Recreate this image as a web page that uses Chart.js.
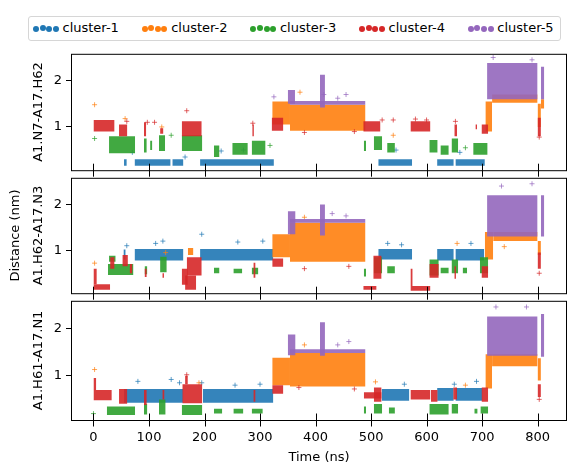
<!DOCTYPE html>
<html>
<head>
<meta charset="utf-8">
<script src="https://cdn.jsdelivr.net/npm/chart.js@4.4.1/dist/chart.umd.min.js"></script>
<style>
    body { margin: 0; background: #fff; font-family: "DejaVu Sans", sans-serif; }
    #wrap { position: relative; width: 588px; height: 475px; overflow: hidden; background: #fff; }
    #wrap canvas { position: absolute; left: 0; }
    .legend-box { position: absolute; left: 28px; top: 16px; width: 533px; height: 25px; box-sizing: border-box;
        border: 1px solid #d6d6d6; border-radius: 3px; }
    .legend-item { position: absolute; top: 0; }
    .dot { position: absolute; width: 6px; height: 6px; border-radius: 50%; }
    .legend-text { position: absolute; top: 21px; font-size: 13px; line-height: 13px; color: #000; white-space: nowrap; }
</style>
</head>
<body>
<div id="wrap">
    <div class="legend-box"></div>
    <div id="legend"></div>
    <canvas id="p1" width="588" height="140" style="top:42px"></canvas>
    <canvas id="p2" width="588" height="139" style="top:166px"></canvas>
    <canvas id="p3" width="588" height="186" style="top:289px"></canvas>
</div>
<script>
const clusterNames = ['cluster-1', 'cluster-2', 'cluster-3', 'cluster-4', 'cluster-5'];
const clusterColors = ['31,119,180', '255,127,14', '44,160,44', '214,39,40', '148,103,189'];
const xTicks = [0, 100, 200, 300, 400, 500, 600, 700, 800];
const yTicks = [1, 2];
const panelLabels = [
    ['', 'A1.N7-A17.H62'],
    ['Distance (nm)', 'A1.H62-A17.N3'],
    ['', 'A1.H61-A17.N1']
];

// dense stretches: [cluster, start ns, end ns, low nm, high nm]
const bandsN7H62 = [
    [1, 55, 60, 0.16, 0.3], [1, 74, 139, 0.16, 0.3], [1, 142, 162, 0.16, 0.3],
    [1, 192, 325, 0.16, 0.3], [1, 513, 574, 0.16, 0.3], [1, 619, 649, 0.16, 0.3],
    [1, 652, 705, 0.16, 0.3],
    [2, 322, 354, 1.05, 1.55], [2, 354, 490, 0.92, 1.48], [2, 706, 718, 0.9, 1.55],
    [2, 718, 800, 1.52, 1.7], [2, 800, 806, 1.0, 1.5], [2, 806, 812, 1.4, 1.6],
    [3, 28, 75, 0.43, 0.8], [3, 91, 96, 0.45, 0.75], [3, 102, 106, 0.5, 0.7],
    [3, 118, 129, 0.48, 0.82], [3, 159, 196, 0.48, 0.82], [3, 217, 227, 0.35, 0.6],
    [3, 250, 278, 0.4, 0.65], [3, 285, 310, 0.4, 0.7], [3, 487, 491, 0.48, 0.7],
    [3, 505, 520, 0.5, 0.8], [3, 529, 543, 0.45, 0.65], [3, 605, 620, 0.45, 0.72],
    [3, 625, 640, 0.4, 0.6], [3, 645, 657, 0.45, 0.75], [3, 684, 710, 0.4, 0.65],
    [4, 0, 38, 0.9, 1.15], [4, 46, 61, 0.8, 1.05], [4, 91, 95, 0.8, 1.1],
    [4, 120, 126, 0.85, 0.97], [4, 159, 195, 0.8, 1.12], [4, 286, 289, 0.8, 1.05],
    [4, 321, 342, 0.92, 1.2], [4, 486, 517, 0.9, 1.12], [4, 571, 607, 0.9, 1.12],
    [4, 650, 655, 0.8, 1.05], [4, 688, 691, 0.95, 1.05], [4, 699, 711, 0.85, 1.05],
    [4, 800, 806, 0.8, 1.2],
    [5, 350, 363, 1.5, 1.8], [5, 408, 417, 1.42, 2.13], [5, 354, 490, 1.48, 1.56],
    [5, 709, 800, 1.6, 2.38], [5, 806, 812, 1.6, 2.3]
];
const bandsH62N3 = [
    [1, 54, 58, 0.8, 1.02], [1, 74, 162, 0.78, 1.03], [1, 192, 324, 0.78, 1.03],
    [1, 513, 574, 0.8, 1.03], [1, 619, 649, 0.78, 1.03], [1, 652, 704, 0.78, 1.03],
    [2, 170, 180, 0.9, 1.05], [2, 322, 354, 0.85, 1.35], [2, 354, 490, 0.75, 1.6],
    [2, 705, 720, 0.8, 1.4], [2, 720, 800, 1.2, 1.4], [2, 800, 806, 0.9, 1.2],
    [3, 26, 72, 0.46, 0.7], [3, 28, 40, 0.75, 0.88], [3, 92, 97, 0.48, 0.65],
    [3, 120, 132, 0.52, 0.86], [3, 217, 227, 0.5, 0.62], [3, 252, 268, 0.5, 0.6],
    [3, 285, 297, 0.48, 0.62], [3, 487, 491, 0.43, 0.6], [3, 505, 520, 0.5, 0.85],
    [3, 529, 543, 0.5, 0.65], [3, 605, 622, 0.45, 0.8], [3, 625, 640, 0.5, 0.62],
    [3, 645, 657, 0.5, 0.8], [3, 665, 673, 0.5, 0.62], [3, 696, 711, 0.5, 0.85],
    [4, 0, 30, 0.14, 0.26], [4, 0, 6, 0.26, 0.6], [4, 30, 38, 0.6, 0.85],
    [4, 52, 62, 0.65, 0.9], [4, 65, 70, 0.5, 0.7], [4, 92, 96, 0.42, 0.6],
    [4, 124, 127, 0.4, 0.5], [4, 159, 170, 0.25, 0.6], [4, 165, 185, 0.14, 0.45],
    [4, 168, 195, 0.45, 0.85], [4, 288, 292, 0.4, 0.73], [4, 322, 342, 0.64, 0.82],
    [4, 486, 510, 0.14, 0.22], [4, 504, 519, 0.38, 0.88], [4, 571, 607, 0.12, 0.22],
    [4, 571, 575, 0.22, 0.6], [4, 605, 622, 0.4, 0.7], [4, 650, 653, 0.38, 0.65],
    [4, 699, 711, 0.4, 0.65], [4, 800, 806, 0.6, 0.95],
    [5, 350, 364, 1.35, 1.85], [5, 408, 417, 1.32, 2.0], [5, 354, 490, 1.6, 1.68],
    [5, 709, 800, 1.3, 2.2], [5, 806, 812, 1.3, 2.2]
];
const bandsH61N1 = [
    [1, 55, 162, 0.43, 0.72], [1, 197, 324, 0.43, 0.72], [1, 519, 569, 0.47, 0.72],
    [1, 619, 649, 0.47, 0.74], [1, 652, 701, 0.47, 0.74],
    [2, 322, 354, 0.8, 1.38], [2, 354, 490, 0.77, 1.48], [2, 706, 718, 0.73, 1.45],
    [2, 718, 800, 1.2, 1.45], [2, 800, 806, 0.9, 1.37],
    [3, 24, 75, 0.17, 0.35], [3, 91, 97, 0.18, 0.41], [3, 118, 130, 0.18, 0.5],
    [3, 159, 196, 0.17, 0.38], [3, 217, 232, 0.2, 0.3], [3, 252, 270, 0.2, 0.3],
    [3, 285, 305, 0.2, 0.3], [3, 487, 491, 0.2, 0.35], [3, 505, 520, 0.2, 0.4],
    [3, 532, 543, 0.2, 0.33], [3, 605, 640, 0.18, 0.4], [3, 645, 657, 0.2, 0.4],
    [3, 686, 692, 0.2, 0.3], [3, 697, 711, 0.2, 0.35],
    [4, 0, 33, 0.48, 0.7], [4, 0, 5, 0.7, 0.95], [4, 46, 61, 0.41, 0.72],
    [4, 91, 96, 0.38, 0.7], [4, 124, 128, 0.5, 0.7], [4, 160, 196, 0.42, 0.82],
    [4, 165, 170, 0.82, 1.0], [4, 288, 292, 0.45, 0.7], [4, 322, 342, 0.62, 0.8],
    [4, 487, 519, 0.52, 0.65], [4, 505, 519, 0.45, 0.75], [4, 571, 607, 0.5, 0.7],
    [4, 608, 620, 0.45, 0.7], [4, 648, 655, 0.5, 0.75], [4, 699, 711, 0.45, 0.75],
    [4, 800, 806, 0.55, 0.82],
    [5, 350, 364, 1.43, 1.87], [5, 408, 417, 1.42, 2.13], [5, 354, 490, 1.48, 1.56],
    [5, 709, 800, 1.42, 2.25], [5, 806, 812, 1.4, 2.3]
];

// scattered single frames: [cluster, ns, nm]
const strayN7H62 = [
    [2, 2, 1.48], [3, 2, 0.75], [4, 60, 1.12], [2, 57, 1.18], [1, 70, 0.45], [4, 97, 1.1],
    [4, 110, 1.1], [2, 123, 1.0], [3, 140, 0.82], [1, 165, 0.35], [4, 168, 1.35], [1, 230, 0.48],
    [1, 270, 0.5], [4, 287, 1.08], [3, 318, 0.6], [5, 325, 1.65], [2, 372, 1.75], [5, 415, 1.7],
    [5, 440, 1.62], [5, 455, 1.7], [4, 380, 0.88], [4, 470, 0.9], [4, 520, 1.15], [4, 540, 1.15],
    [2, 540, 0.82], [1, 545, 0.5], [4, 580, 1.17], [4, 600, 1.15], [4, 652, 1.12], [1, 660, 0.45],
    [3, 670, 0.55], [5, 720, 2.5], [5, 790, 2.45], [4, 803, 0.78]
];
const strayH62N3 = [
    [2, 2, 0.72], [1, 60, 1.1], [1, 125, 1.2], [1, 112, 1.15], [2, 130, 0.95], [1, 195, 1.35],
    [1, 260, 1.18], [1, 305, 1.2], [2, 380, 1.72], [5, 430, 1.8], [5, 455, 1.75], [4, 380, 0.6],
    [4, 460, 0.65], [1, 530, 1.15], [1, 555, 1.12], [2, 655, 1.15], [1, 680, 1.15], [5, 735, 2.4],
    [5, 790, 2.45], [2, 740, 1.08], [4, 803, 0.5]
];
const strayH61N1 = [
    [2, 2, 1.13], [3, 0, 0.2], [1, 80, 0.88], [1, 140, 0.92], [1, 155, 0.85], [1, 195, 0.85],
    [4, 168, 1.02], [2, 190, 0.85], [1, 255, 0.8], [1, 300, 0.82], [2, 380, 1.65], [5, 440, 1.65],
    [5, 460, 1.72], [4, 370, 0.75], [4, 470, 0.72], [2, 508, 0.87], [1, 560, 0.82], [1, 650, 0.82],
    [2, 670, 0.8], [1, 690, 0.88], [5, 725, 2.45], [5, 780, 2.45], [4, 803, 0.5]
];

const FONT = '"DejaVu Sans", sans-serif';

// legend with four dots per entry, like matplotlib's scatter legend
const legend = document.getElementById('legend');
clusterNames.forEach((name, i) => {
    const left = 33 + i * 108.7;
    const item = document.createElement('div');
    item.className = 'legend-item';
    item.style.left = left + 'px';
    [26, 24.7, 26, 26].forEach((top, k) => {
        const d = document.createElement('span');
        d.className = 'dot';
        d.style.left = (k * 6.6) + 'px';
        d.style.top = top + 'px';
        d.style.background = `rgb(${clusterColors[i]})`;
        item.appendChild(d);
    });
    const t = document.createElement('span');
    t.className = 'legend-text';
    t.style.left = '29.5px';
    t.textContent = name;
    item.appendChild(t);
    legend.appendChild(item);
});

// panel frame + in/out x ticks at the bottom edge
const framePlugin = {
    id: 'frame',
    afterDraw(chart) {
        const { ctx, chartArea: a, scales: { x } } = chart;
        ctx.save();
        ctx.strokeStyle = '#000';
        ctx.lineWidth = 1;
        ctx.strokeRect(a.left + 0.5, a.top + 0.5, a.right - a.left - 1, a.bottom - a.top);
        ctx.beginPath();
        xTicks.forEach(v => {
            const px = Math.round(x.getPixelForValue(v)) + 0.5;
            ctx.moveTo(px, a.bottom - 6.5);
            ctx.lineTo(px, a.bottom + 6.5);
        });
        ctx.stroke();
        ctx.restore();
    }
};

function buildDatasets(bands, strays) {
    const sets = bands.map(([c, t0, t1, lo, hi]) => ({
        data: [{ x: t0, y: hi }, { x: t1, y: hi }],
        fill: { value: lo },
        backgroundColor: `rgba(${clusterColors[c - 1]},0.9)`,
        borderColor: 'rgba(0,0,0,0)',
        borderWidth: 0,
        pointRadius: 0,
        tension: 0,
        order: 10 - c
    }));
    clusterColors.forEach((col, i) => {
        const pts = strays.filter(s => s[0] === i + 1).map(s => ({ x: s[1], y: s[2] }));
        if (!pts.length) return;
        sets.push({
            data: pts,
            showLine: false,
            pointStyle: 'cross',
            pointRadius: 2.5,
            borderWidth: 1,
            borderColor: `rgba(${col},0.7)`,
            backgroundColor: `rgba(${col},0.7)`,
            order: 9 - i
        });
    });
    return sets;
}

function makePanel(id, idx, bands, strays) {
    const last = idx === 2;
    new Chart(document.getElementById(id), {
        type: 'line',
        data: { datasets: buildDatasets(bands, strays) },
        options: {
            responsive: false,
            animation: false,
            events: [],
            layout: { padding: { top: 8, bottom: last ? 0 : 8, left: 0, right: 21 } },
            plugins: { legend: { display: false }, tooltip: { enabled: false } },
            scales: {
                x: {
                    type: 'linear',
                    min: -40.5,
                    max: 853,
                    display: last,
                    afterBuildTicks: s => { s.ticks = xTicks.map(v => ({ value: v })); },
                    afterFit: s => { s.height = last ? 55 : 0; },
                    grid: { display: false, drawTicks: false },
                    border: { display: false },
                    ticks: { padding: 10, color: '#000', font: { size: 13, family: FONT } },
                    title: {
                        display: true, text: 'Time (ns)', color: '#000',
                        font: { size: 13, family: FONT }, padding: { top: 0, bottom: 10 }
                    }
                },
                y: {
                    type: 'linear',
                    min: 0.065,
                    max: 2.58,
                    afterBuildTicks: s => { s.ticks = yTicks.map(v => ({ value: v })); },
                    afterFit: s => { s.width = 71; },
                    grid: { drawOnChartArea: false, drawTicks: true, tickLength: 5, color: '#000' },
                    border: { display: false },
                    ticks: { padding: 4, color: '#000', font: { size: 13, family: FONT } },
                    title: {
                        display: true, text: panelLabels[idx], color: '#000',
                        font: { size: 13, family: FONT, lineHeight: 1.8 }, padding: { top: 4, bottom: 0 }
                    }
                }
            }
        },
        plugins: [framePlugin]
    });
}

makePanel('p1', 0, bandsN7H62, strayN7H62);
makePanel('p2', 1, bandsH62N3, strayH62N3);
makePanel('p3', 2, bandsH61N1, strayH61N1);
</script>
</body>
</html>
